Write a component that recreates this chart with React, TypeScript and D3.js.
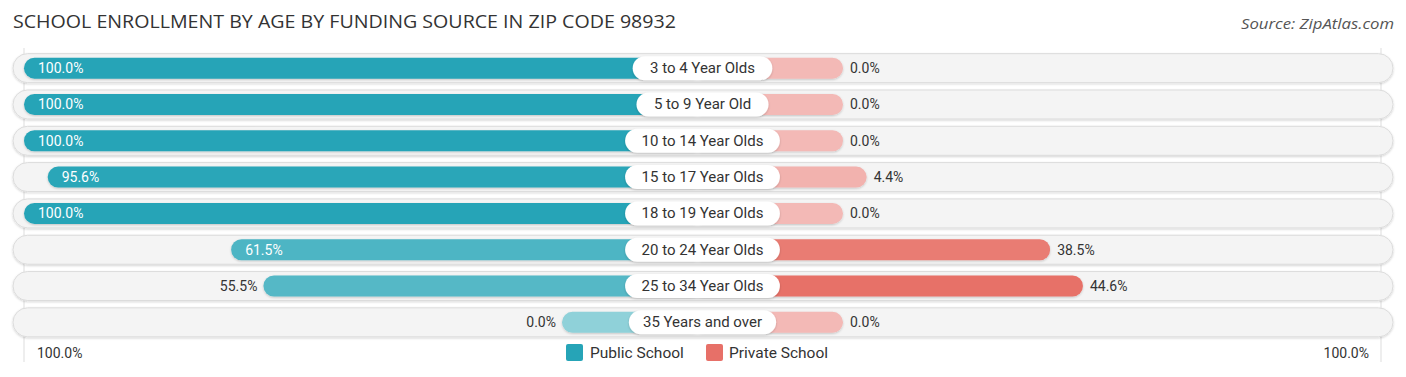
import React from "react";
import * as d3 from "d3";

const categories = [
  "3 to 4 Year Olds",
  "5 to 9 Year Old",
  "10 to 14 Year Olds",
  "15 to 17 Year Olds",
  "18 to 19 Year Olds",
  "20 to 24 Year Olds",
  "25 to 34 Year Olds",
  "35 Years and over",
];
const publicValues = [100.0, 100.0, 100.0, 95.6, 100.0, 61.5, 55.5, 0.0];
const privateValues = [0.0, 0.0, 0.0, 4.4, 0.0, 38.5, 44.6, 0.0];
const seriesNames = ["Public School", "Private School"];
const axisLabels = ["100.0%", "100.0%"];

const W = 1406;
const H = 377;
const CX = 702.5;
const FONT = "Roboto, 'Open Sans', sans-serif";
const TFONT = "'Open Sans', Roboto, sans-serif";

export default function App() {
  const y = d3
    .scaleBand<number>()
    .domain(d3.range(categories.length))
    .range([50, 340.5])
    .paddingInner(0)
    .paddingOuter(0);
  const len = d3.scaleLinear().domain([0, 100]).range([140.5, 678.5]);
  const pubColor = d3.scaleLinear<string>().domain([0, 100]).range(["#8fd1d9", "#26a4b7"]);
  const privColor = d3.scaleLinear<string>().domain([0, 50]).range(["#f3b9b6", "#e6685f"]).clamp(true);
  const bh = 21;
  const rowH = 29;

  return (
    <svg width={W} height={H} style={{ display: "block", position: "absolute", left: 0, top: 0 }}>
      <defs>
        <filter id="sh" x="-5%" y="-30%" width="110%" height="160%">
          <feDropShadow dx="0" dy="1" stdDeviation="1" floodColor="#000" floodOpacity="0.18" />
        </filter>
        <filter id="sh2" x="-5%" y="-30%" width="110%" height="160%">
          <feDropShadow dx="0" dy="1" stdDeviation="0.8" floodColor="#000" floodOpacity="0.2" />
        </filter>
      </defs>
      <text x={13} y={28} fontFamily={TFONT} fontSize={18} fill="#333" textLength={663} lengthAdjust="spacingAndGlyphs">
        SCHOOL ENROLLMENT BY AGE BY FUNDING SOURCE IN ZIP CODE 98932
      </text>
      <text x={1394} y={29} fontFamily={TFONT} fontSize={14.5} fontStyle="italic" fill="#555" textAnchor="end" textLength={153} lengthAdjust="spacingAndGlyphs">
        Source: ZipAtlas.com
      </text>
      <line x1={24} x2={24} y1={48} y2={362} stroke="#ddd" strokeWidth={1} />
      <line x1={1381} x2={1381} y1={48} y2={362} stroke="#ddd" strokeWidth={1} />
      {categories.map((c, i) => {
        const cy = (y(i) as number) + y.bandwidth() / 2;
        const pv = publicValues[i];
        const rv = privateValues[i];
        const lx = CX - len(pv);
        const rx = CX + len(rv);
        const tw = c.length * 7.6 + 18;
        const pubInside = pv >= 60;
        return (
          <g key={c}>
            <rect
              x={13}
              y={cy - rowH / 2}
              width={1380}
              height={rowH}
              rx={rowH / 2}
              fill="#f4f4f4"
              stroke="#dcdcdc"
              strokeWidth={1}
              filter="url(#sh)"
            />
            <rect x={lx} y={cy - bh / 2} width={CX - lx} height={bh} rx={bh / 2} fill={pubColor(pv)} filter="url(#sh2)" />
            <rect x={CX - 10} y={cy - bh / 2} width={rx - CX + 10} height={bh} rx={bh / 2} fill={privColor(rv)} filter="url(#sh2)" />
            <rect x={CX} y={cy - bh / 2} width={10} height={bh} fill={pubColor(pv)} />
            <rect
              x={CX - tw / 2}
              y={cy - 12}
              width={tw}
              height={24}
              rx={12}
              fill="#fff"
              filter="url(#sh2)"
            />
            <text x={CX} y={cy + 5} textAnchor="middle" fontFamily={FONT} fontSize={15} fill="#333">
              {c}
            </text>
            <text
              x={pubInside ? lx + 14 : lx - 6}
              y={cy + 5}
              textAnchor={pubInside ? "start" : "end"}
              fontFamily={FONT}
              fontSize={14}
              fill={pubInside ? "#fff" : "#333"}
            >
              {pv.toFixed(1) + "%"}
            </text>
            <text x={rx + 7} y={cy + 5} textAnchor="start" fontFamily={FONT} fontSize={14} fill="#333">
              {rv.toFixed(1) + "%"}
            </text>
          </g>
        );
      })}
      <text x={37} y={358} fontFamily={FONT} fontSize={14} fill="#333">
        {axisLabels[0]}
      </text>
      <text x={1369} y={358} textAnchor="end" fontFamily={FONT} fontSize={14} fill="#333">
        {axisLabels[1]}
      </text>
      <rect x={566} y={344} width={17} height={17} rx={2} fill={pubColor(100)} />
      <text x={590} y={358} fontFamily={FONT} fontSize={15.5} fill="#333">
        {seriesNames[0]}
      </text>
      <rect x={706} y={344} width={17} height={17} rx={2} fill={privColor(45)} />
      <text x={729} y={358} fontFamily={FONT} fontSize={15.5} fill="#333">
        {seriesNames[1]}
      </text>
    </svg>
  );
}
